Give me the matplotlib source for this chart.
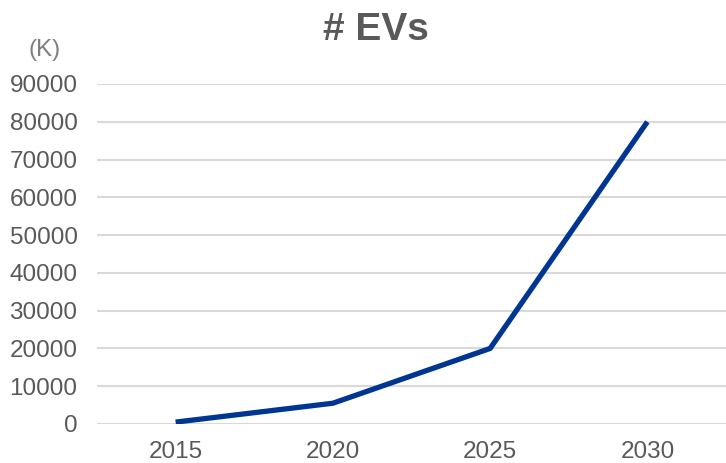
import matplotlib.pyplot as plt

# data
years = ['2015', '2020', '2025', '2030']
evs = [500, 5500, 20000, 80000]
yticks = [0, 10000, 20000, 30000, 40000, 50000, 60000, 70000, 80000, 90000]

plt.rcParams['font.family'] = ['Liberation Sans', 'DejaVu Sans']
txt = '#595959'

fig = plt.figure(figsize=(7.26, 4.63), dpi=100)
ax = fig.add_axes([97 / 726, 39 / 463, 629 / 726, 340 / 463])

x = range(len(years))
ax.plot(x, evs, color='#003591', linewidth=3.8, solid_capstyle='butt', zorder=3)

ax.set_xlim(-0.5, len(years) - 0.5)
ax.set_ylim(0, 90000)
ax.set_yticks(yticks)
ax.set_yticklabels([str(t) for t in yticks])
ax.set_xticks(list(x))
ax.set_xticklabels(years)
ax.tick_params(length=0, labelsize=17.5, labelcolor=txt)
ax.tick_params(axis='y', pad=14)
ax.tick_params(axis='x', pad=12)

ax.grid(axis='y', color='#d9d9d9', linewidth=1.5)
ax.set_axisbelow(True)
for s in ax.spines.values():
    s.set_visible(False)

fig.text(376 / 726, 1 - 30 / 463, '# EVs', ha='center', va='center',
         fontsize=28, fontweight='bold', color=txt)
fig.text(45 / 726, 1 - 50 / 463, '(K)', ha='center', va='center',
         fontsize=17.5, color='#7f7f7f')

fig.savefig('out.png', dpi=100)
